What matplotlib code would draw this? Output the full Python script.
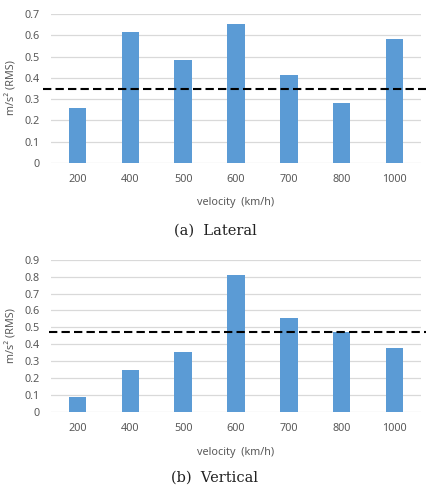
import matplotlib.pyplot as plt

categories = ['200', '400', '500', '600', '700', '800', '1000']
lateral = [0.258, 0.615, 0.482, 0.651, 0.412, 0.280, 0.581]
lateral_limit = 0.347
vertical = [0.090, 0.248, 0.353, 0.811, 0.557, 0.474, 0.380]
vertical_limit = 0.471

W, H = 427, 491
fig = plt.figure(figsize=(W/100, H/100), dpi=100)

BAR = '#5b9bd5'
GRID = '#d9d9d9'
TXT = '#595959'
FONT = ['Noto Sans', 'DejaVu Sans']
SERIF = ['DejaVu Serif']
FS = 7.8

def make(ax_box, values, limit, ymax, ylab_y, dash_xmin, xlab_y, cap_y, caption):
    l, t, r, b = ax_box
    ax = fig.add_axes([l/W, 1-b/H, (r-l)/W, (b-t)/H])
    x = range(len(categories))
    ax.bar(x, values, width=0.33, color=BAR, zorder=3)
    ax.set_xlim(-0.5, len(categories)-0.5)
    ax.set_ylim(0, ymax)
    ticks = [i/10 for i in range(int(round(ymax*10))+1)]
    ax.set_yticks(ticks)
    ax.set_yticklabels(['0' if v == 0 else f'{v:.1f}' for v in ticks], fontsize=FS, color=TXT, family=FONT)
    ax.set_xticks(list(x))
    ax.set_xticklabels(categories, fontsize=FS, color=TXT, family=FONT)
    ax.tick_params(length=0, pad=8)
    ax.tick_params(axis='y', pad=8)
    for s in ax.spines.values():
        s.set_visible(False)
    ax.grid(axis='y', color=GRID, lw=0.9, zorder=0)
    ax.axhline(limit, xmin=dash_xmin, xmax=(W-l)/(r-l), color='black', lw=1.5,
               dashes=(4, 2), clip_on=False, zorder=4)
    fig.text(12/W, 1-ylab_y/H, 'm/s² (RMS)', rotation=90, ha='center', va='center',
             fontsize=FS, color=TXT, family=FONT)
    fig.text(236/W, 1-xlab_y/H, 'velocity  (km/h)', ha='center', va='center',
             fontsize=FS, color=TXT, family=FONT)
    fig.text(215/W, 1-cap_y/H, caption, ha='center', va='center',
             fontsize=10.5, color='#222222', family=SERIF)
    return ax

make((51, 14, 421, 163), lateral, lateral_limit, 0.7, 88, (43-51)/370, 203, 231, '(a)  Lateral')
make((51, 259.7, 421, 412), vertical, vertical_limit, 0.9, 336, (49-51)/370, 452, 478, '(b)  Vertical')

fig.savefig('out.png', dpi=100, facecolor='white')
